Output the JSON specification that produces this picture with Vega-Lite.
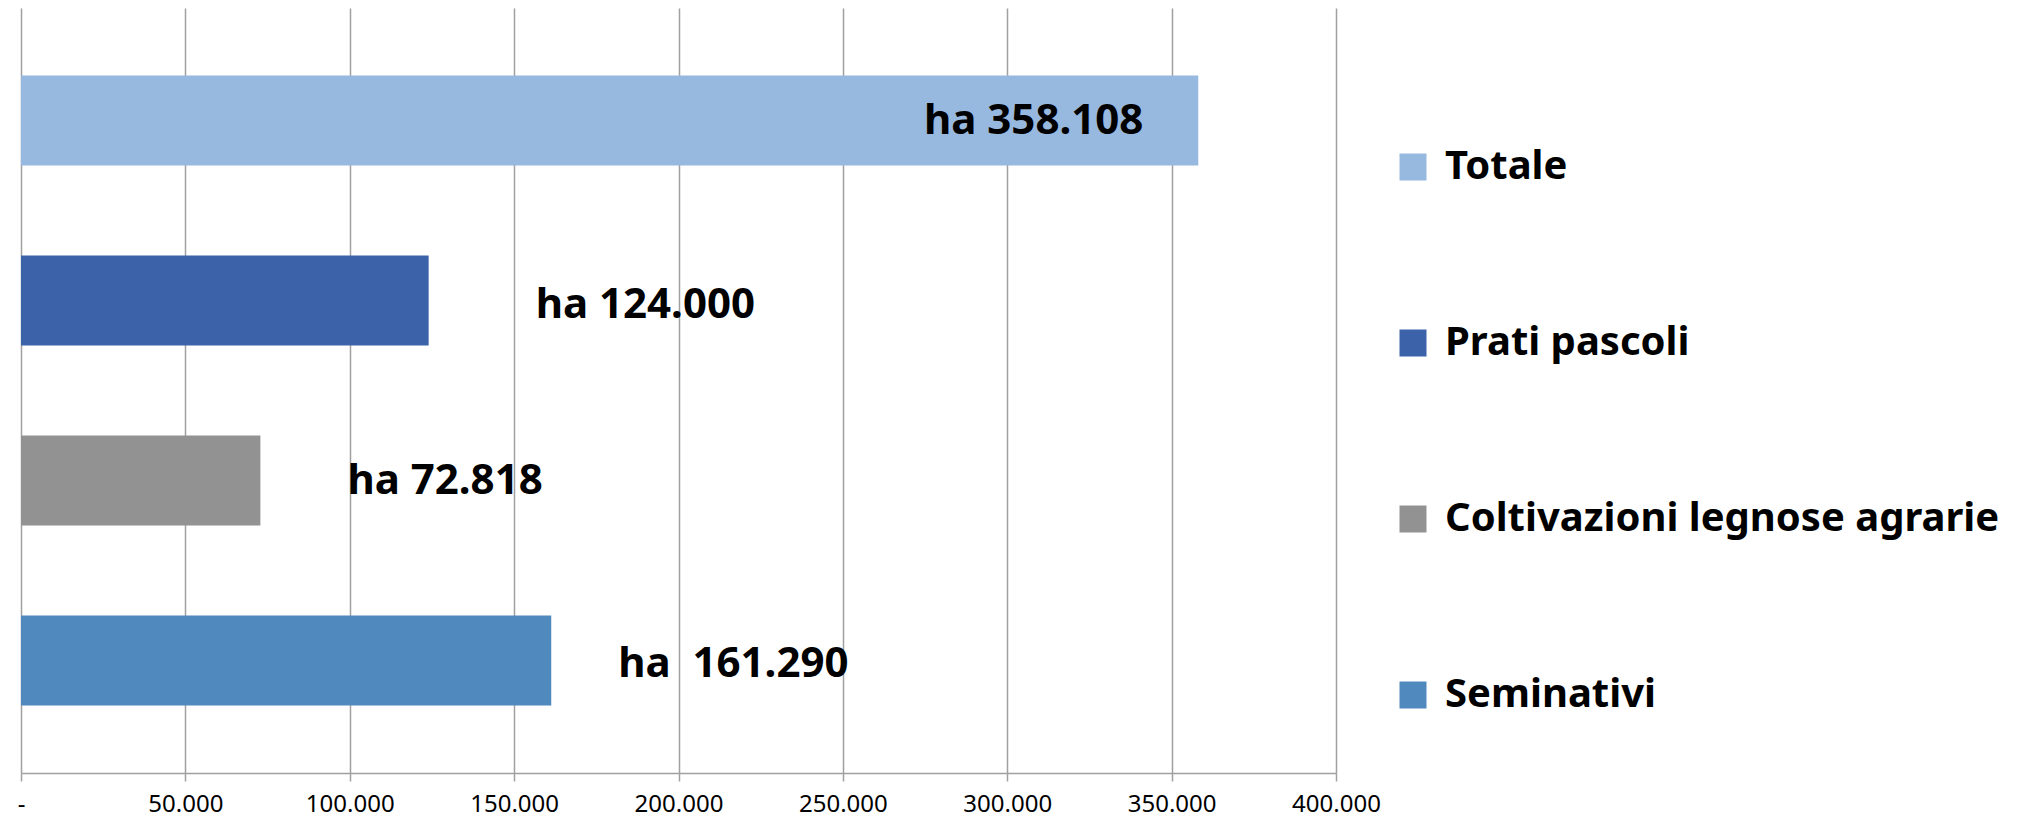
{
  "$schema": "https://vega.github.io/schema/vega-lite/v6.json",
  "width": 1315,
  "height": 765,
  "autosize": {"type": "none"},
  "padding": {"left": 21, "top": 8, "right": 684, "bottom": 46},
  "background": "white",
  "config": {"view": {"stroke": null}, "font": "Noto Sans"},
  "data": {
    "values": [
      {"categoria": "Totale", "ettari": 358108, "etichetta": "ha 358.108"},
      {"categoria": "Prati pascoli", "ettari": 124000, "etichetta": "ha 124.000"},
      {"categoria": "Coltivazioni legnose agrarie", "ettari": 72818, "etichetta": "ha 72.818"},
      {"categoria": "Seminativi", "ettari": 161290, "etichetta": "ha\u00a0 161.290"}
    ]
  },
  "encoding": {
    "y": {
      "field": "categoria",
      "type": "nominal",
      "sort": ["Totale", "Prati pascoli", "Coltivazioni legnose agrarie", "Seminativi"],
      "scale": {"paddingInner": 0.5, "paddingOuter": 0.375},
      "axis": {"title": null, "labels": false, "ticks": false, "domain": false, "grid": false}
    },
    "x": {
      "field": "ettari",
      "type": "quantitative",
      "scale": {"domain": [0, 400000], "nice": false},
      "axis": {
        "title": null,
        "values": [0, 50000, 100000, 150000, 200000, 250000, 300000, 350000, 400000],
        "grid": true,
        "gridColor": "#a0a0a0",
        "gridWidth": 1.5,
        "domainColor": "#a0a0a0",
        "domainWidth": 1.5,
        "tickColor": "#a0a0a0",
        "tickWidth": 1.5,
        "tickSize": 8,
        "labelFontSize": 24,
        "labelColor": "black",
        "labelPadding": 11,
        "labelFlush": false,
        "labelOverlap": false,
        "labelFont": "Noto Sans",
        "labelExpr": "datum.value == 0 ? '-' : replace(format(datum.value, ','), ',', '.')"
      }
    }
  },
  "layer": [
    {
      "mark": {"type": "bar"},
      "encoding": {
        "color": {
          "field": "categoria",
          "type": "nominal",
          "scale": {
            "domain": ["Totale", "Prati pascoli", "Coltivazioni legnose agrarie", "Seminativi"],
            "range": ["#97b8df", "#3c63aa", "#929292", "#4f89bd"]
          },
          "legend": {
            "title": null,
            "orient": "none",
            "legendX": 1372,
            "legendY": 139,
            "padding": 0,
            "symbolType": "square",
            "symbolSize": 729,
            "symbolStrokeWidth": 0,
            "labelFontSize": 40,
            "labelFontWeight": "bold",
            "labelColor": "black",
            "labelFont": "Noto Sans",
            "labelOffset": 12,
            "labelLimit": 900,
            "rowPadding": 136
          }
        }
      }
    },
    {
      "transform": [{"filter": "datum.categoria == 'Totale'"}],
      "mark": {"type": "text", "align": "right", "baseline": "middle", "dx": -55, "fontSize": 42, "fontWeight": "bold", "color": "black"},
      "encoding": {"text": {"field": "etichetta"}}
    },
    {
      "transform": [{"filter": "datum.categoria == 'Prati pascoli'"}],
      "mark": {"type": "text", "align": "left", "baseline": "middle", "dx": 107, "dy": 4, "fontSize": 42, "fontWeight": "bold", "color": "black"},
      "encoding": {"text": {"field": "etichetta"}}
    },
    {
      "transform": [{"filter": "datum.categoria == 'Coltivazioni legnose agrarie'"}],
      "mark": {"type": "text", "align": "left", "baseline": "middle", "dx": 87, "fontSize": 42, "fontWeight": "bold", "color": "black"},
      "encoding": {"text": {"field": "etichetta"}}
    },
    {
      "transform": [{"filter": "datum.categoria == 'Seminativi'"}],
      "mark": {"type": "text", "align": "left", "baseline": "middle", "dx": 67, "dy": 3, "fontSize": 42, "fontWeight": "bold", "color": "black"},
      "encoding": {"text": {"field": "etichetta"}}
    }
  ]
}
